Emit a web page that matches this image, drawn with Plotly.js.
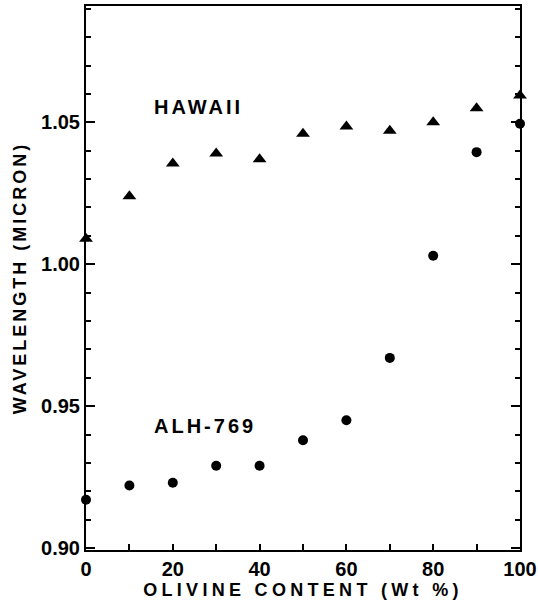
<!DOCTYPE html>
<html>
<head>
<meta charset="utf-8">
<script src="https://cdn.plot.ly/plotly-3.0.1.min.js"></script>
<style>
  html, body { margin: 0; padding: 0; background: #fff; }
  #chart { width: 538px; height: 605px; }
  .xtitle { letter-spacing: 4.3px; }
  .ytitle { letter-spacing: 3px; }
  .annotation-text { letter-spacing: 3px; }
</style>
</head>
<body>
<div id="chart"></div>
<script>
// Olivine content (wt %)
const olivine = [0, 10, 20, 30, 40, 50, 60, 70, 80, 90, 100];
// Band position, Hawaii series (triangles)
const hawaiiWavelength = [1.009, 1.024, 1.0355, 1.039, 1.037, 1.046, 1.0485, 1.047, 1.050, 1.055, 1.0595];
// Band position, ALH-769 series (circles)
const alhWavelength = [0.917, 0.922, 0.923, 0.929, 0.929, 0.938, 0.945, 0.967, 1.003, 1.0395, 1.0495];
// Axis tick labels
const xTickVals = [0, 20, 40, 60, 80, 100];
const xTickText = ['0', '20', '40', '60', '80', '100'];
const yTickVals = [0.90, 0.95, 1.00, 1.05];
const yTickText = ['0.90', '0.95', '1.00', '1.05'];
// Series labels
const seriesLabels = ['HAWAII', 'ALH-769'];

const FONT = '"Liberation Sans", Arial, Helvetica, sans-serif';

const traces = [
  {
    type: 'scatter', mode: 'markers', name: seriesLabels[0],
    x: olivine, y: hawaiiWavelength, cliponaxis: false,
    marker: { symbol: 'triangle-up', size: 12, color: '#000' }
  },
  {
    type: 'scatter', mode: 'markers', name: seriesLabels[1],
    x: olivine, y: alhWavelength, cliponaxis: false,
    marker: { symbol: 'circle', size: 10, color: '#000' }
  }
];

const layout = {
  width: 538, height: 605,
  margin: { l: 86, r: 18, t: 6, b: 55 },
  paper_bgcolor: '#fff', plot_bgcolor: '#fff',
  showlegend: false,
  font: { family: FONT, color: '#000' },
  xaxis: {
    range: [0, 100], showgrid: false, zeroline: false,
    showline: true, linecolor: '#000', linewidth: 2, mirror: true,
    ticks: 'inside', ticklen: 6, tickwidth: 2, tickcolor: '#000',
    tickvals: xTickVals, ticktext: xTickText,
    tickfont: { family: FONT, size: 20, weight: 'bold', color: '#000' },
    minor: { dtick: 10, tick0: 0, ticks: 'inside', ticklen: 6, tickwidth: 2, tickcolor: '#000', showgrid: false },
    title: { text: 'OLIVINE CONTENT (Wt %)', font: { family: FONT, size: 18, weight: 'bold', color: '#000' }, standoff: 4 }
  },
  yaxis: {
    range: [0.8993, 1.091], showgrid: false, zeroline: false,
    showline: true, linecolor: '#000', linewidth: 2, mirror: 'ticks',
    ticks: 'inside', ticklen: 9, tickwidth: 2, tickcolor: '#000',
    tickvals: yTickVals, ticktext: yTickText,
    tickfont: { family: FONT, size: 20, weight: 'bold', color: '#000' },
    minor: { dtick: 0.01, tick0: 0.9, ticks: 'inside', ticklen: 5, tickwidth: 2, tickcolor: '#000', showgrid: false },
    title: { text: 'WAVELENGTH (MICRON)', font: { family: FONT, size: 18, weight: 'bold', color: '#000' }, standoff: 10 }
  },
  annotations: [
    { x: 15.3, y: 1.0553, xref: 'x', yref: 'y', text: seriesLabels[0], showarrow: false, xanchor: 'left', yanchor: 'middle',
      font: { family: FONT, size: 20, weight: 'bold', color: '#000' } },
    { x: 15.1, y: 0.943, xref: 'x', yref: 'y', text: seriesLabels[1], showarrow: false, xanchor: 'left', yanchor: 'middle',
      font: { family: FONT, size: 20, weight: 'bold', color: '#000' } }
  ]
};

Plotly.newPlot('chart', traces, layout, { staticPlot: true, displayModeBar: false });
</script>
</body>
</html>
